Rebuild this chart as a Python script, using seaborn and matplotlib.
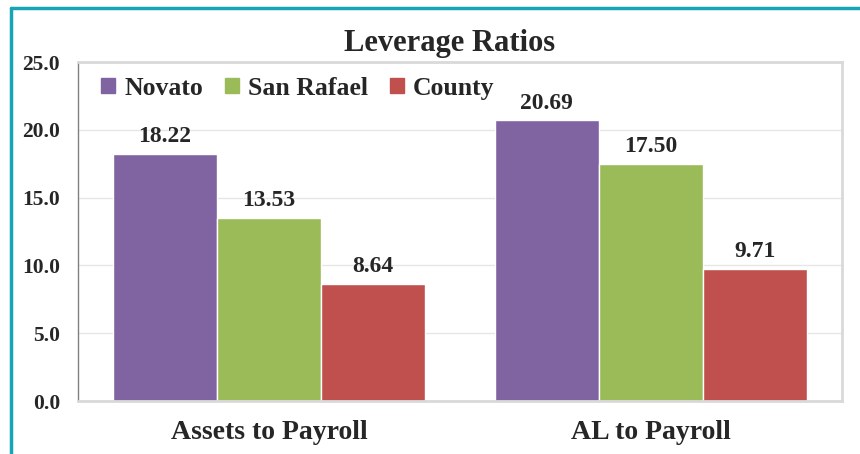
import pandas as pd
import numpy as np
import matplotlib
matplotlib.use('Agg')
import matplotlib.pyplot as plt
import matplotlib.patches as mpatches
from matplotlib.lines import Line2D
import seaborn as sns

# chart values
categories = ['Assets to Payroll', 'AL to Payroll']
series = ['Novato', 'San Rafael', 'County']
novato = [18.22, 20.69]
san_rafael = [13.53, 17.50]
county = [8.64, 9.71]
colors = ['#8064a2', '#9bbb59', '#c0504d']

df = pd.DataFrame({
    'category': categories * 3,
    'series': [s for s in series for _ in categories],
    'value': novato + san_rafael + county,
})

sns.set_theme(style='white')
plt.rcParams['font.family'] = ['Liberation Serif', 'DejaVu Serif']

fig = plt.figure(figsize=(8.6, 4.54), dpi=100)
ax = fig.add_axes([0.0907, 0.1167, 0.8883, 0.7467])

sns.barplot(data=df, x='category', y='value', hue='series',
            hue_order=series, order=categories, palette=colors,
            width=0.817, saturation=1, ax=ax, legend=False)

for container in ax.containers:
    ax.bar_label(container, fmt='%.2f', padding=5, fontsize=17,
                 fontweight='bold')

ax.set_ylim(0, 25)
ax.set_yticks(np.arange(0, 26, 5))
ax.set_yticklabels([f'{v:.1f}' for v in np.arange(0, 26, 5)],
                   fontsize=15.5, fontweight='bold')
ax.tick_params(axis='y', pad=13, length=0)
ax.tick_params(axis='x', pad=14, length=0, labelsize=20)
for lbl in ax.get_xticklabels():
    lbl.set_fontweight('bold')
ax.set_xlabel('')
ax.set_ylabel('')
ax.yaxis.grid(True, color='#e6e6e6', linewidth=1)
ax.set_axisbelow(True)
for side in ['top', 'right', 'bottom']:
    ax.spines[side].set_color('#d9d9d9')
    ax.spines[side].set_linewidth(2)
ax.spines['left'].set_color('#808080')
ax.spines['left'].set_linewidth(1)

handles = [mpatches.Patch(color=c, label=s) for c, s in zip(colors, series)]
ax.legend(handles=handles, loc='upper left', ncol=3, frameon=False,
          handlelength=0.55, handleheight=0.55, handletextpad=0.35,
          columnspacing=0.85, bbox_to_anchor=(0.0, 1.025),
          prop={'size': 18.5, 'weight': 'bold'})

fig.text(0.523, 0.904, 'Leverage Ratios', ha='center', va='center',
         fontsize=22, fontweight='bold')

# teal frame on left and top
teal = '#17a5b5'
fig.add_artist(Line2D([0.0128, 0.0128], [0.0, 0.982], color=teal,
                      linewidth=2.5, transform=fig.transFigure))
fig.add_artist(Line2D([0.0128, 1.0], [0.982, 0.982], color=teal,
                      linewidth=2.5, transform=fig.transFigure))

fig.savefig('out.png', dpi=100)
